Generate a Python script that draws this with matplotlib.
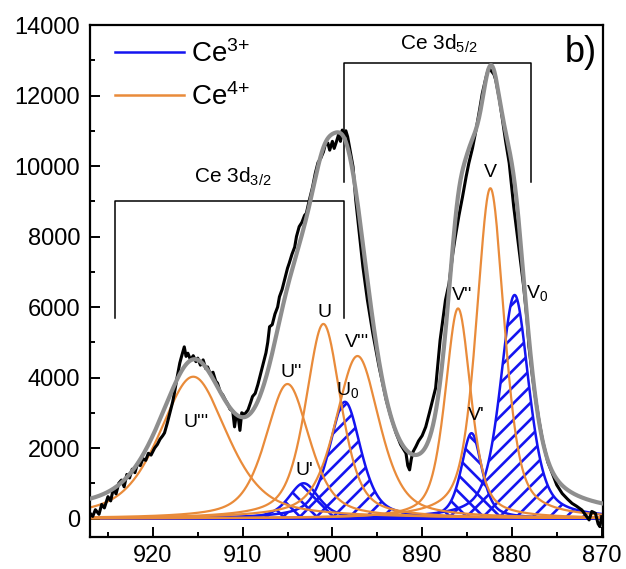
import numpy as np
import matplotlib
matplotlib.use("Agg")
import matplotlib.pyplot as plt
from matplotlib.ticker import MultipleLocator

be_meas = [927.0, 926.7, 926.4, 926.0, 925.7, 925.4, 925.0, 924.7, 924.4, 924.1,
           923.8, 923.5, 923.2, 922.9, 922.6, 922.3, 922.0, 921.7, 921.4, 921.1,
           920.8, 920.5, 920.2, 919.8, 919.5, 919.2, 918.9, 918.7, 918.4, 918.1,
           917.8, 917.6, 917.3, 917.0, 916.8, 916.5, 916.3, 916.1, 915.8, 915.5,
           915.2, 915.0, 914.7, 914.4, 914.1, 913.9, 913.6, 913.3, 913.0, 912.8,
           912.5, 912.2, 911.9, 911.7, 911.4, 911.1, 910.9, 910.7, 910.5, 910.3,
           910.1, 909.8, 909.4, 909.1, 908.9, 908.6, 908.3, 908.0, 907.7, 907.4,
           907.2, 907.0, 906.7, 906.4, 906.1, 905.9, 905.6, 905.3, 905.0, 904.8,
           904.5, 904.2, 904.0, 903.7, 903.4, 903.1, 902.9, 902.6, 902.4, 902.2,
           901.9, 901.6, 901.3, 901.0, 900.8, 900.5, 900.3, 900.0, 899.8, 899.6,
           899.3, 899.1, 898.9, 898.7, 898.5, 898.3, 898.0, 897.7, 897.4, 897.0,
           896.6, 896.1, 895.5, 894.8, 894.0, 893.5, 892.9, 892.4, 891.8, 891.6,
           891.4, 891.2, 891.0, 890.7, 890.4, 890.0, 889.6, 889.2, 888.8, 888.5,
           888.0, 887.4, 887.0, 886.6, 886.3, 885.9, 885.5, 885.1, 884.8, 884.4,
           884.0, 883.6, 883.3, 882.9, 882.6, 882.3, 882.0, 881.8, 881.4, 881.1,
           880.7, 880.3, 879.8, 879.2, 878.7, 878.3, 878.1, 877.7, 877.4, 877.0,
           876.6, 876.0, 875.5, 875.0, 874.4, 873.8, 873.3, 872.8, 872.2, 871.8,
           871.4, 871.1, 870.7, 870.4, 870.2, 870.0]
counts_meas = [150, 60, 250, 120, 400, 300, 620, 500, 850, 700,
               1000, 1090, 900, 1250, 1150, 1400, 1300, 1570, 1500, 1700,
               1650, 1850, 1800, 2000, 2100, 2250, 2350, 2430, 2700, 3000,
               3300, 3560, 4000, 4410, 4600, 4870, 4600, 4690, 4500, 4620,
               4450, 4550, 4350, 4500, 4250, 4300, 4100, 4150, 3900, 3840,
               3600, 3500, 3350, 3270, 3100, 3050, 2600, 2950, 2900, 2500,
               3000, 2950, 3080, 3300, 3460, 3550, 3800, 4100, 4410, 4700,
               5000, 5440, 5500, 5800, 6000, 6290, 6500, 6800, 7100, 7250,
               7500, 7700, 8000, 8280, 8400, 8600, 8660, 9000, 9200, 9410,
               9800, 10100, 10220, 10400, 10600, 10650, 10450, 10700, 10500, 10650,
               10900, 10700, 11020, 10800, 11000, 10830, 10400, 9980, 9040, 8100,
               7140, 6200, 5260, 4310, 3360, 2900, 2420, 2100, 1850, 1500,
               1380, 1700, 1900, 2040, 2200, 2350, 2600, 2990, 3400, 3700,
               5060, 6200, 6670, 7500, 8000, 8600, 9130, 9700, 10080, 10500,
               11020, 11600, 12060, 12500, 12770, 12700, 12600, 12440, 11900, 11400,
               10700, 10080, 8850, 7620, 6600, 5600, 4870, 4000, 3460, 2800,
               2230, 1600, 1280, 950, 710, 550, 430, 350, 240, 100,
               -40, 200, 150, -150, -230, 50]

# fitted components: centre (eV), height (counts), FWHM (eV)
ce3_centre = [879.7, 884.5, 898.6, 903.2]     # V0, V', U0, U'
ce3_height = [6340, 2420, 3310, 1000]
ce3_fwhm = [3.8, 2.7, 4.2, 4.0]

ce4_centre = [882.4, 886.0, 897.2, 901.0, 905.0, 915.5]   # V, V'', V''', U, U'', U'''
ce4_height = [9370, 5960, 4610, 5520, 3816, 4023]
ce4_fwhm = [3.7, 3.4, 5.8, 4.7, 5.8, 9.0]

LORENTZ_FRACTION = 0.55
BG_LOW, BG_HIGH = 50, 130   # Shirley background end points

BLUE = "#1414f0"
ORANGE = "#e98b3a"


def pvoigt(x, centre, height, fwhm, eta=LORENTZ_FRACTION):
    u = (x - centre) / fwhm
    return height * (eta / (1 + 4 * u ** 2) + (1 - eta) * np.exp(-4 * np.log(2) * u ** 2))


plt.rcParams.update({
    "font.family": ["Liberation Sans", "DejaVu Sans"],
    "mathtext.default": "regular",
    "hatch.linewidth": 1.9,
    "axes.linewidth": 1.6,
})

be = np.linspace(869.5, 927.5, 2400)
ce3 = [pvoigt(be, c, h, w) for c, h, w in zip(ce3_centre, ce3_height, ce3_fwhm)]
ce4 = [pvoigt(be, c, h, w) for c, h, w in zip(ce4_centre, ce4_height, ce4_fwhm)]
total = np.sum(ce3, axis=0) + np.sum(ce4, axis=0)
area = np.cumsum(total)
envelope = total + BG_LOW + (BG_HIGH - BG_LOW) * area / area[-1]

fig = plt.figure(figsize=(6.26, 5.69), dpi=100)
ax = fig.add_axes([0.1438, 0.0562, 0.8195, 0.8998])

hatches = ["//", "\\\\", "//", "\\\\"]
for y, h in zip(ce3, hatches):
    ax.fill_between(be, 0, y, facecolor="none", edgecolor=BLUE, hatch=h,
                    linewidth=1.8, zorder=1)
for y in ce4:
    ax.plot(be, y, color=ORANGE, lw=1.6, zorder=2)

ax.plot(be_meas, counts_meas, color="black", lw=2.2, zorder=3)
ax.plot(be, envelope, color="#8e8e8e", lw=3.0, zorder=4)

# legend handles
l3, = ax.plot([], [], color=BLUE, lw=1.8)
l4, = ax.plot([], [], color=ORANGE, lw=1.8)
ax.legend([l3, l4], ["Ce$^{3{+}}$", "Ce$^{4{+}}$"], loc="upper left",
          bbox_to_anchor=(0.0, 1.02), frameon=False, fontsize=20,
          handlelength=2.5, handletextpad=0.25, labelspacing=0.55)

# spin-orbit brackets
ax.plot([924.2, 924.2, 898.7, 898.7], [5700, 9000, 9000, 5700], color="black", lw=1.1)
ax.plot([898.7, 898.7, 877.9, 877.9], [9550, 12920, 12920, 9550], color="black", lw=1.1)
ax.text(911.1, 9520, "Ce 3d$_{3/2}$", ha="center", va="baseline", fontsize=15)
ax.text(888.1, 13290, "Ce 3d$_{5/2}$", ha="center", va="baseline", fontsize=15)
ax.text(872.3, 12960, "b)", ha="center", va="baseline", fontsize=26)

# peak labels
label_pos = {
    "U'''": (915.2, 2605), "U''": (904.6, 4023), "U'": (903.1, 1234),
    "U": (900.9, 5725), "U$_0$": (898.3, 3504), "V'''": (897.3, 4874),
    "V''": (885.5, 6200), "V'": (884.0, 2794), "V": (882.45, 9697),
    "V$_0$": (877.2, 6255),
}
for text, (x, y) in label_pos.items():
    ax.text(x, y, text, ha="center", va="baseline", fontsize=14)

ax.set_xlim(927, 869.85)
ax.set_ylim(-525, 14000)
ax.xaxis.set_major_locator(MultipleLocator(10))
ax.xaxis.set_minor_locator(MultipleLocator(5))
ax.yaxis.set_major_locator(MultipleLocator(2000))
ax.yaxis.set_minor_locator(MultipleLocator(1000))
ax.tick_params(which="both", direction="in", labelsize=17, width=1.4)
ax.tick_params(which="major", length=7)
ax.tick_params(which="minor", length=3.5)
ax.tick_params(axis="x", pad=6)
ax.tick_params(axis="y", pad=7)

fig.savefig("out.png", dpi=100)
